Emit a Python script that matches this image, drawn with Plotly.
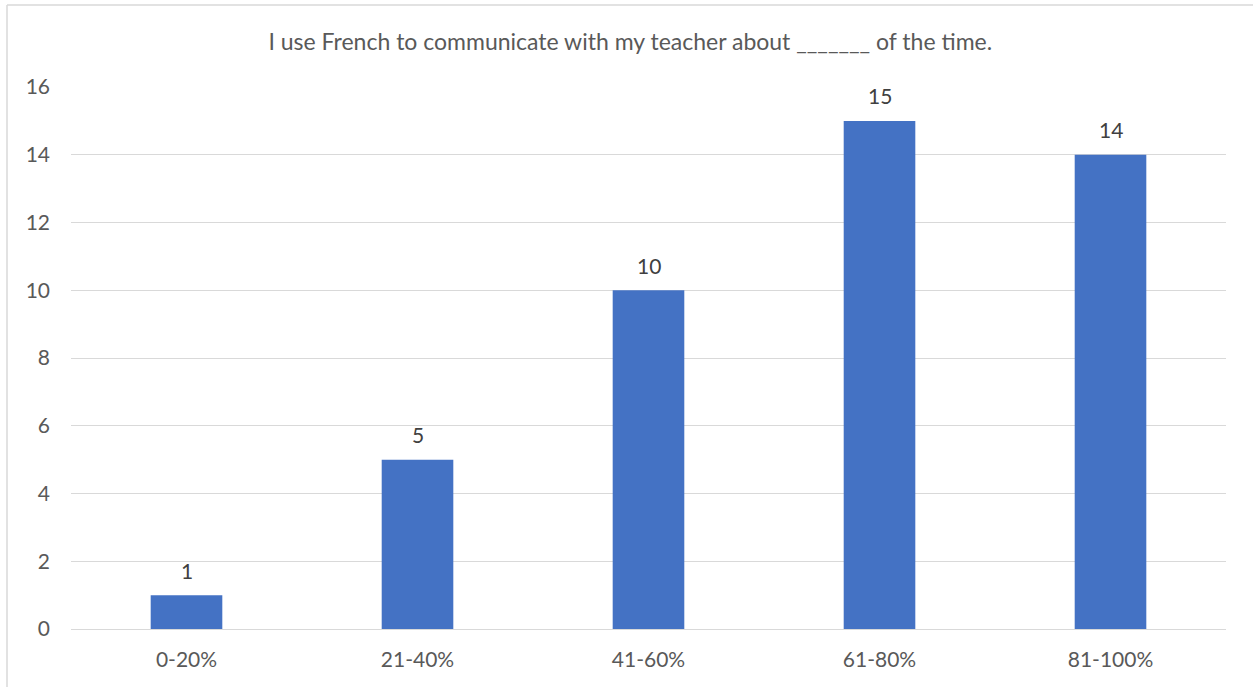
import plotly.graph_objects as go

categories = ["0-20%", "21-40%", "41-60%", "61-80%", "81-100%"]
values = [1, 5, 10, 15, 14]
title_text = "I use French to communicate with my teacher about _______ of the time."

W, H = 1253, 687
L, R, T, B = 71, 27, 87, 58
pw = W - L - R
ph = H - T - B
FONT = "Lato"

fig = go.Figure(go.Bar(
    x=categories, y=values,
    marker=dict(color="#4472C4", line=dict(width=0)),
    cliponaxis=False,
    width=0.31,
))

for c, v in zip(categories, values):
    fig.add_annotation(x=c, y=v, text=str(v), showarrow=False,
                       xref="x", yref="y", yanchor="middle", yshift=25,
                       font=dict(family=FONT, size=21, color="#404040"))

fig.update_layout(
    width=W, height=H,
    margin=dict(l=L, r=R, t=T, b=B),
    paper_bgcolor="white", plot_bgcolor="white",
    showlegend=False,
    title=dict(text=title_text, x=0.503, xanchor="center", xref="container",
               y=1 - 42 / H, yanchor="middle", yref="container",
               font=dict(family=FONT, size=23, color="#595959")),
    xaxis=dict(showgrid=False, showline=True, linecolor="#D9D9D9", linewidth=1,
               tickfont=dict(family=FONT, size=21, color="#595959"),
               ticks="", ticklabelstandoff=12),
    yaxis=dict(range=[0, 16], dtick=2, showgrid=True, gridcolor="#D9D9D9",
               gridwidth=1, zeroline=False, showline=False,
               tickfont=dict(family=FONT, size=21, color="#595959"),
               ticks="", ticklabelstandoff=20),
    shapes=[
        dict(type="line", xref="paper", yref="paper",
             x0=(7 - L) / pw, x1=(W + 10 - L) / pw,
             y0=(H - B - 5) / ph + 0, y1=(H - B - 5) / ph,
             line=dict(color="#D9D9D9", width=1.5)),
        dict(type="line", xref="paper", yref="paper",
             x0=(7 - L) / pw, x1=(7 - L) / pw,
             y0=(H - B - 5) / ph, y1=-(B + 10) / ph,
             line=dict(color="#D9D9D9", width=1.5)),
    ],
)

fig.write_html("out.html")
